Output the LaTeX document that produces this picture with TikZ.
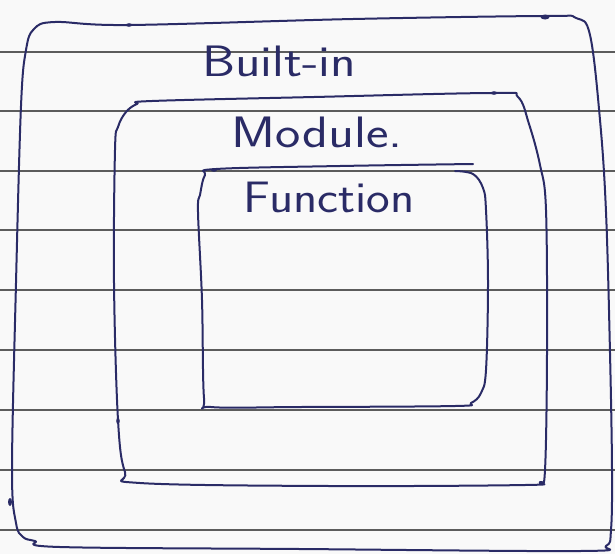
\documentclass[tikz,border=0pt]{standalone}
\usepackage{fontspec}
\definecolor{penblue}{HTML}{2A2B66}
\definecolor{rulegray}{HTML}{5C5C5C}
\definecolor{paper}{HTML}{F9F9F9}
\begin{document}
\begin{tikzpicture}[x=1pt,y=-1pt,
  pen/.style={draw=penblue, line width=2pt, line cap=round, line join=round},
  rulestroke/.style={draw=rulegray, line width=1.5pt},
  handtext/.style={text=penblue, font=\sffamily\fontsize{44}{48}\selectfont, inner sep=0pt, anchor=base},
  blob/.style={fill=penblue}]
\useasboundingbox (0,0) rectangle (615,554);
\fill[paper] (0,0) rectangle (615,554);
% ruled lines of the paper
\foreach \yy in {52,111,171,230,290,350,410,470,530}
  \draw[rulestroke] (0,\yy) -- (615,\yy);
% outer box: Built-in
\draw[pen] plot[smooth cycle, tension=0.6] coordinates {
  (55,22) (129,25) (353,19) (545,16) (576,18) (590,35) (600,120) (606,212)
  (610,353) (612,470) (611,530) (606,546) (580,551) (300,549) (60,547)
  (35,541) (23,537) (16,523) (12,470) (16,283) (21,106) (26,50) (34,29) };
% middle box: Module
\draw[pen] plot[smooth cycle, tension=0.6] coordinates {
  (152,101) (314,97) (494,93) (518,97) (529,124) (540,165) (546,210)
  (547,353) (545,470) (540,482) (525,485) (330,486) (140,483) (125,472)
  (118,420) (114,283) (115,150) (118,127) (126,112) (137,104) };
% inner box: Function
\draw[pen] plot[smooth, tension=0.6] coordinates {
  (473,164) (340,166) (216,169) (205,175) (200,195) (198,212) (202,300)
  (204,398) (211,407) (300,407) (455,406) (471,403) (481,393) (486,370)
  (488,283) (486,210) (483,188) (473,174) (455,171) };
% pen blobs
\fill[blob] (545,17) ellipse (4.5pt and 2.5pt);
\fill[blob] (129,25) ellipse (3pt and 1.8pt);
\fill[blob] (494,93) ellipse (3pt and 1.8pt);
\fill[blob] (118,421) ellipse (1.8pt and 3pt);
\fill[blob] (10,502) ellipse (2pt and 4pt);
\fill[blob] (214,170) ellipse (3pt and 1.8pt);
% labels
\node[handtext] (builtin) at (279,76) {\scalebox{1.2}[1]{Built-in}};
\node[handtext] (module) at (317,147) {\scalebox{1.22}[1]{Module.}};
\node[handtext] (function) at (329,212) {\scalebox{1.14}[1]{Function}};
\end{tikzpicture}
\end{document}
